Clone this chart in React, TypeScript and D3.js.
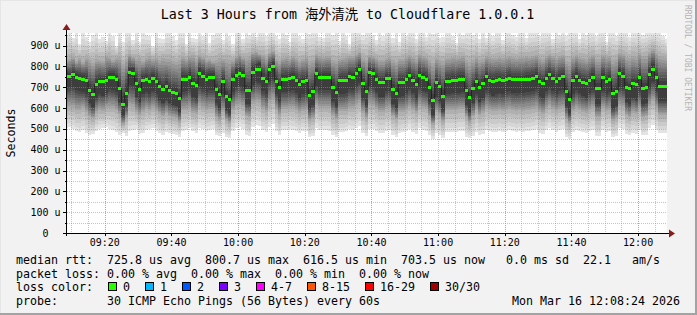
import React from "react";
import * as d3 from "d3";

// ---------- data (microseconds) ----------
// one entry per minute column, 09:08 (partial) ... 12:08 (partial)
const medianRtt = [
  753, 753, 759, 748, 743, 737, 730, 682, 665, 714, 726, 726, 732, 748, 748, 737, 695, 617, 670, 770, 766, 716, 687, 730, 735, 726, 740, 729, 702, 687, 702,
  686, 676, 671, 644, 738, 738, 748, 718, 708, 764, 751, 738, 748, 748, 687, 665, 727, 654, 639, 738, 758, 764, 756, 682, 682, 772, 785, 785, 742, 727,
  783, 798, 727, 697, 738, 738, 743, 748, 734, 713, 729, 734, 662, 681, 764, 748, 748, 748, 748, 697, 674, 730, 730, 732, 750, 748, 766, 783, 716, 681,
  769, 764, 738, 722, 722, 743, 743, 689, 670, 721, 724, 735, 754, 732, 713, 758, 745, 738, 697, 634, 722, 703, 657, 729, 729, 734, 734, 737, 737, 682,
  650, 694, 729, 700, 716, 750, 734, 726, 732, 735, 730, 738, 743, 735, 735, 735, 735, 738, 738, 743, 751, 726, 716, 743, 759, 742, 729, 742, 750, 679,
  642, 730, 750, 734, 724, 718, 734, 748, 695, 695, 745, 729, 738, 668, 681, 764, 753, 700, 692, 716, 711, 748, 694, 697, 759, 786, 745, 703, 703, 703,
];
// outermost ping (highest) per column
const smokeTop = [
  950, 960, 935, 960, 905, 960, 940, 915, 950, 960, 930, 940, 920, 960, 945, 900, 960, 915, 960, 960, 925, 960, 915, 960, 950, 945, 900, 960, 935, 930, 960,
  960, 945, 925, 960, 960, 905, 960, 935, 930, 960, 945, 960, 910, 950, 960, 960, 925, 960, 945, 905, 960, 960, 930, 960, 950, 960, 940, 960, 960, 945,
  960, 960, 945, 930, 960, 950, 915, 960, 960, 945, 930, 960, 955, 960, 960, 940, 935, 960, 960, 950, 960, 920, 960, 945, 905, 960, 960, 960, 950, 960,
  960, 950, 925, 960, 945, 960, 960, 935, 960, 915, 960, 945, 960, 960, 930, 960, 960, 940, 960, 955, 960, 935, 940, 960, 960, 945, 910, 960, 950, 960,
  960, 950, 960, 930, 960, 935, 960, 945, 960, 960, 925, 960, 960, 950, 940, 960, 960, 935, 960, 960, 960, 945, 960, 960, 960, 930, 960, 950, 960, 945,
  960, 960, 960, 930, 960, 950, 960, 960, 945, 960, 960, 915, 960, 960, 945, 960, 960, 960, 940, 960, 960, 960, 950, 960, 960, 960, 960, 960, 945, 930,
];
// upper edge of the medium-gray smoke
const smokeUpper = [
  830, 835, 845, 825, 840, 820, 840, 830, 815, 835, 830, 825, 850, 845, 830, 840, 845, 810, 835, 860, 845, 835, 840, 825, 840, 850, 835, 840, 830, 840, 835,
  835, 825, 820, 830, 845, 835, 850, 855, 835, 855, 845, 830, 835, 825, 830, 840, 835, 835, 830, 830, 850, 860, 845, 840, 850, 870, 870, 860, 855, 840,
  865, 875, 835, 825, 840, 845, 835, 850, 840, 825, 835, 845, 825, 830, 860, 850, 845, 850, 850, 830, 825, 835, 840, 845, 850, 850, 860, 870, 840, 830,
  855, 850, 840, 830, 830, 840, 845, 830, 820, 835, 835, 845, 855, 845, 835, 860, 850, 845, 830, 815, 840, 830, 825, 840, 840, 845, 840, 845, 850, 830,
  820, 830, 845, 830, 835, 850, 845, 840, 840, 845, 840, 845, 850, 845, 840, 845, 845, 850, 845, 850, 855, 840, 835, 850, 860, 850, 840, 850, 855, 825,
  820, 845, 855, 845, 840, 835, 845, 855, 835, 835, 855, 845, 850, 830, 835, 865, 860, 845, 840, 850, 845, 865, 850, 850, 870, 885, 865, 850, 845, 840,
];
// upper edge of the dark core
const coreTop = [
  775, 770, 780, 770, 765, 760, 755, 715, 700, 740, 750, 745, 755, 770, 770, 760, 725, 660, 705, 790, 790, 745, 715, 755, 760, 750, 765, 755, 730, 715, 730,
  710, 700, 695, 670, 760, 760, 775, 745, 730, 790, 780, 765, 770, 770, 715, 690, 750, 680, 665, 760, 785, 790, 780, 710, 705, 800, 810, 815, 770, 750,
  805, 820, 750, 725, 760, 760, 765, 770, 755, 740, 750, 755, 690, 705, 785, 770, 770, 770, 770, 725, 700, 755, 755, 755, 775, 770, 790, 805, 740, 705,
  790, 785, 760, 745, 745, 765, 765, 715, 695, 745, 745, 760, 775, 755, 740, 780, 770, 760, 720, 665, 745, 725, 685, 750, 750, 755, 755, 760, 760, 705,
  675, 720, 750, 725, 740, 770, 755, 750, 755, 755, 750, 760, 765, 755, 755, 755, 755, 760, 760, 765, 775, 750, 740, 765, 780, 765, 750, 765, 770, 705,
  670, 755, 775, 755, 745, 740, 755, 770, 720, 720, 770, 750, 760, 695, 705, 785, 775, 725, 715, 740, 735, 770, 720, 720, 785, 810, 770, 730, 730, 730,
];
// lower edge of the dark core
const coreBottom = [
  690, 695, 700, 685, 680, 675, 665, 625, 605, 650, 665, 660, 670, 690, 685, 675, 630, 565, 610, 710, 705, 655, 630, 665, 675, 665, 680, 665, 640, 625, 640,
  625, 615, 610, 580, 675, 680, 690, 655, 645, 705, 690, 675, 685, 685, 625, 600, 665, 590, 575, 675, 700, 705, 695, 620, 620, 710, 725, 720, 680, 665,
  725, 740, 665, 635, 675, 675, 680, 685, 670, 650, 665, 670, 595, 615, 705, 685, 685, 685, 685, 635, 610, 665, 665, 670, 690, 685, 705, 720, 650, 615,
  705, 700, 675, 655, 655, 680, 680, 620, 600, 655, 660, 670, 690, 670, 645, 695, 680, 675, 630, 565, 655, 635, 590, 665, 665, 670, 670, 670, 675, 615,
  580, 625, 665, 630, 650, 685, 670, 660, 665, 670, 665, 675, 680, 670, 670, 670, 670, 675, 675, 680, 690, 660, 650, 680, 695, 680, 665, 680, 685, 610,
  575, 665, 685, 670, 660, 650, 670, 685, 620, 620, 680, 665, 675, 595, 610, 700, 690, 630, 620, 650, 640, 680, 620, 625, 695, 725, 680, 635, 635, 635,
];
// lower edge of the medium-gray smoke
const smokeLower = [
  600, 605, 600, 590, 590, 600, 580, 560, 550, 575, 590, 585, 600, 600, 600, 590, 570, 520, 550, 610, 605, 580, 565, 580, 595, 585, 600, 585, 570, 560, 575,
  560, 555, 550, 530, 590, 590, 600, 575, 570, 610, 600, 590, 595, 595, 555, 540, 580, 540, 525, 590, 610, 615, 605, 560, 555, 620, 630, 625, 595, 580,
  625, 640, 590, 560, 595, 595, 600, 600, 590, 575, 585, 590, 540, 550, 615, 600, 600, 600, 600, 560, 545, 585, 585, 585, 600, 600, 615, 625, 575, 550,
  615, 610, 595, 580, 580, 595, 600, 560, 545, 580, 580, 590, 605, 590, 575, 610, 600, 595, 560, 520, 580, 565, 535, 590, 590, 590, 590, 595, 595, 555,
  530, 560, 590, 565, 575, 600, 590, 585, 585, 590, 585, 590, 595, 590, 585, 590, 585, 590, 590, 595, 600, 580, 570, 595, 610, 595, 585, 595, 600, 545,
  525, 585, 600, 590, 580, 575, 590, 600, 555, 555, 600, 585, 590, 540, 550, 610, 605, 565, 555, 575, 570, 600, 555, 560, 610, 635, 600, 565, 565, 565,
];
// outermost ping (lowest) per column
const smokeBottom = [
  505, 510, 500, 490, 485, 495, 480, 470, 475, 490, 500, 505, 510, 500, 495, 485, 470, 480, 465, 490, 495, 500, 475, 480, 495, 500, 505, 490, 480, 470, 485,
  480, 475, 470, 460, 490, 495, 505, 490, 480, 505, 500, 490, 495, 500, 470, 465, 480, 460, 455, 490, 505, 510, 500, 470, 465, 510, 520, 515, 495, 485,
  510, 525, 490, 470, 495, 495, 500, 495, 490, 480, 490, 490, 460, 465, 505, 495, 495, 495, 490, 470, 460, 485, 485, 490, 500, 495, 505, 515, 480, 465,
  500, 500, 490, 480, 480, 490, 495, 470, 460, 480, 485, 490, 500, 485, 475, 505, 495, 490, 470, 450, 480, 470, 455, 485, 485, 485, 485, 490, 490, 460,
  455, 465, 485, 470, 475, 495, 490, 485, 485, 490, 485, 490, 495, 490, 485, 490, 485, 490, 490, 495, 500, 480, 475, 495, 505, 495, 485, 495, 500, 460,
  450, 485, 495, 490, 485, 480, 490, 495, 465, 465, 495, 485, 490, 460, 465, 505, 500, 475, 470, 480, 475, 495, 470, 470, 505, 520, 495, 480, 480, 480,
];

const lossLabels = ["0", "1", "2", "3", "4-7", "8-15", "16-29", "30/30"];
const lossColors = ["#26ff00", "#00b8ff", "#0059ff", "#7e00ff", "#ff00ff", "#ff5500", "#ff0000", "#a10000"];

const legendRtt = "median rtt:  725.8 us avg  800.7 us max  616.5 us min  703.5 us now   0.0 ms sd  22.1   am/s";
const legendLoss = "packet loss: 0.00 % avg  0.00 % max  0.00 % min  0.00 % now";
const legendLossLabel = "loss color:";
const legendProbe = "probe:       30 ICMP Echo Pings (56 Bytes) every 60s";
const stampText = "Mon Mar 16 12:08:24 2026";
const titleText = "Last 3 Hours from 海外清洗 to Cloudflare 1.0.0.1";
const watermark = "RRDTOOL / TOBI OETIKER";

// smokeping gray levels (outer -> inner)
const upperOuterGrays = [227, 214, 202, 189, 176];
const upperMidGrays = [164, 151, 138, 126, 113, 100, 88, 75];

const MONO = "'DejaVu Sans Mono', 'Liberation Mono', monospace";

function stepStops(levels: number[]) {
  const n = levels.length;
  const out: React.ReactElement[] = [];
  levels.forEach((g, i) => {
    const c = `rgb(${g},${g},${g})`;
    out.push(<stop key={`a${i}`} offset={i / n} stopColor={c} />);
    out.push(<stop key={`b${i}`} offset={(i + 1) / n} stopColor={c} />);
  });
  return out;
}

export default function App() {
  const W = 697, H = 315;
  const left = 67, right = 667, top = 33, bottom = 233;
  const start = new Date(2026, 2, 16, 9, 8, 40);
  const end = new Date(2026, 2, 16, 12, 8, 40);
  const firstMinute = new Date(2026, 2, 16, 9, 8, 0);

  const x = d3.scaleTime().domain([start, end]).range([left, right]);
  const y = d3.scaleLinear().domain([0, 960]).range([bottom, top]);

  const cols = medianRtt.map((m, j) => {
    const t0 = d3.timeMinute.offset(firstMinute, j);
    const t1 = d3.timeMinute.offset(firstMinute, j + 1);
    const x0 = x(t0 < start ? start : t0);
    const x1 = x(t1 > end ? end : t1);
    return { x0, x1, m, j };
  });

  const minorX = d3.timeMinute.every(5)!.range(start, end);
  const majorX = minorX.filter((d) => (d.getHours() * 60 + d.getMinutes()) % 40 === 0);
  const labelX = minorX.filter((d) => d.getMinutes() % 20 === 0);
  const fmt = d3.timeFormat("%H:%M");

  const minorY = d3.range(50, 1000, 100);
  const majorY = d3.range(0, 1000, 100);
  const yLabel = (v: number) => (v === 0 ? "0  " : `${v} u`);

  const linePts: [number, number][] = cols.map((c) => [c.x0, y(c.m)]);
  const last = cols[cols.length - 1];
  linePts.push([last.x1, y(last.m)]);
  const medianPath = d3.line().curve(d3.curveStepAfter)(linePts) || "";

  const gridMinor = "rgba(140,140,140,0.5)";
  const gridMajor = "rgba(235,110,110,0.55)";

  const boxStartX = 108;
  const charW = 7;
  let bx = boxStartX;
  const lossItems = lossLabels.map((lab, i) => {
    const item = { lab, color: lossColors[i], bx, tx: bx + 15 };
    bx = bx + 15 + lab.length * charW + 15;
    return item;
  });

  return (
    <svg
      width={W}
      height={H}
      viewBox={`0 0 ${W} ${H}`}
      style={{ position: "absolute", left: 0, top: 0, display: "block" }}
      fontFamily={MONO}
    >
      <defs>
        <linearGradient id="upOuter" x1="0" y1="0" x2="0" y2="1">{stepStops(upperOuterGrays)}</linearGradient>
        <linearGradient id="upMid" x1="0" y1="0" x2="0" y2="1">{stepStops(upperMidGrays)}</linearGradient>
        <linearGradient id="loMid" x1="0" y1="0" x2="0" y2="1">{stepStops([...upperMidGrays].reverse())}</linearGradient>
        <linearGradient id="loOuter" x1="0" y1="0" x2="0" y2="1">{stepStops([...upperOuterGrays].reverse())}</linearGradient>
      </defs>

      {/* background with 3D border */}
      <rect x={0} y={0} width={W} height={H} fill="#f2f2f2" />
      <rect x={0} y={0} width={W} height={1} fill="#e6e6e6" />
      <rect x={0} y={0} width={1} height={H} fill="#e6e6e6" />
      <rect x={W - 2} y={0} width={2} height={H} fill="#a3a3a3" />
      <rect x={0} y={H - 2} width={W} height={2} fill="#a3a3a3" />

      {/* canvas */}
      <rect x={left} y={top} width={right - left} height={bottom - top} fill="#ffffff" />

      {/* smoke */}
      <g shapeRendering="crispEdges">
        {cols.map((c) => {
          const j = c.j;
          const w = c.x1 - c.x0;
          const yT = y(smokeTop[j]), yU = y(smokeUpper[j]), yCT = y(coreTop[j]);
          const yCB = y(coreBottom[j]), yL = y(smokeLower[j]), yB = y(smokeBottom[j]);
          return (
            <g key={j}>
              <rect x={c.x0} y={yT} width={w} height={yU - yT} fill="url(#upOuter)" />
              <rect x={c.x0} y={yU} width={w} height={yCT - yU} fill="url(#upMid)" />
              <rect x={c.x0} y={yCT} width={w} height={yCB - yCT} fill="#3d3d3d" />
              <rect x={c.x0} y={yCB} width={w} height={yL - yCB} fill="url(#loMid)" />
              <rect x={c.x0} y={yL} width={w} height={yB - yL} fill="url(#loOuter)" />
            </g>
          );
        })}
      </g>

      {/* grid */}
      <g strokeDasharray="1,1" strokeWidth={1} shapeRendering="crispEdges">
        {minorX.map((d, i) => (
          <line key={`vx${i}`} x1={Math.round(x(d)) + 0.5} x2={Math.round(x(d)) + 0.5} y1={top} y2={bottom} stroke={gridMinor} />
        ))}
        {minorY.map((v) => (
          <line key={`hy${v}`} x1={left} x2={right} y1={Math.round(y(v)) + 0.5} y2={Math.round(y(v)) + 0.5} stroke={gridMinor} />
        ))}
        {majorX.map((d, i) => (
          <line key={`mx${i}`} x1={Math.round(x(d)) + 0.5} x2={Math.round(x(d)) + 0.5} y1={top} y2={bottom} stroke={gridMajor} />
        ))}
        {majorY.filter((v) => v > 0).map((v) => (
          <line key={`my${v}`} x1={left} x2={right} y1={Math.round(y(v)) + 0.5} y2={Math.round(y(v)) + 0.5} stroke={gridMajor} />
        ))}
      </g>

      {/* median: dark step line, then loss-coloured boxes */}
      <path d={medianPath} fill="none" stroke="#202020" strokeWidth={1} />
      <g shapeRendering="crispEdges">
        {cols.map((c) => (
          <rect key={`g${c.j}`} x={c.x0} y={y(c.m) - 1.5} width={c.x1 - c.x0} height={3} fill={lossColors[0]} />
        ))}
      </g>

      {/* axes */}
      <g shapeRendering="crispEdges" stroke="#000000">
        <line x1={66.5} x2={66.5} y1={bottom + 3} y2={top - 4} />
        <line x1={63} x2={right + 3} y1={bottom + 0.5} y2={bottom + 0.5} />
        {majorY.map((v) => (
          <line key={`ty${v}`} x1={63} x2={66} y1={Math.round(y(v)) + 0.5} y2={Math.round(y(v)) + 0.5} />
        ))}
        {minorY.map((v) => (
          <line key={`tyn${v}`} x1={65} x2={66} y1={Math.round(y(v)) + 0.5} y2={Math.round(y(v)) + 0.5} />
        ))}
        {labelX.map((d, i) => (
          <line key={`tx${i}`} x1={Math.round(x(d)) + 0.5} x2={Math.round(x(d)) + 0.5} y1={bottom + 1} y2={bottom + 3} />
        ))}
      </g>
      <path d={`M62.5,${top - 3} L70.5,${top - 3} L66.5,${top - 9} Z`} fill="#8b1a1a" />
      <path d={`M${right + 2},${bottom - 3.5} L${right + 2},${bottom + 4.5} L${right + 8},${bottom + 0.5} Z`} fill="#8b1a1a" />

      {/* y labels */}
      <g fontSize={10} fill="#000">
        {majorY.map((v) => (
          <text key={`yl${v}`} x={60.5} y={y(v)} dy="0.35em" textAnchor="end" xmlSpace="preserve">
            {yLabel(v)}
          </text>
        ))}
      </g>
      <text
        x={0}
        y={0}
        transform={`translate(14.5,${(top + bottom) / 2}) rotate(-90)`}
        textAnchor="middle"
        fontSize={11.6}
        fill="#000"
      >
        Seconds
      </text>

      {/* x labels */}
      <g fontSize={10} fill="#000">
        {labelX.map((d, i) => (
          <text key={`xl${i}`} x={x(d)} y={246} textAnchor="middle">
            {fmt(d)}
          </text>
        ))}
      </g>

      {/* title */}
      <text x={347.5} y={19} textAnchor="middle" fontSize={13.3} fontFamily={`'DejaVu Sans Mono', 'Noto Sans CJK SC', monospace`} fill="#000">
        {titleText}
      </text>

      {/* watermark */}
      <text x={0} y={0} transform={`translate(685,5) rotate(90)`} fontSize={8} fill="#b4b4b4">
        {watermark}
      </text>

      {/* legend */}
      <g fontSize={11.63} fill="#000">
        <text x={16} y={263.5} xmlSpace="preserve">{legendRtt}</text>
        <text x={16} y={277.5} xmlSpace="preserve">{legendLoss}</text>
        <text x={16} y={291.3} xmlSpace="preserve">{legendLossLabel}</text>
        {lossItems.map((it) => (
          <g key={it.lab}>
            <rect x={it.bx + 0.5} y={282.5} width={8} height={8} fill={it.color} stroke="#000" strokeWidth={1} shapeRendering="crispEdges" />
            <text x={it.tx} y={291.3}>{it.lab}</text>
          </g>
        ))}
        <text x={16} y={305.2} xmlSpace="preserve">{legendProbe}</text>
        <text x={680} y={305.2} textAnchor="end">{stampText}</text>
      </g>
    </svg>
  );
}
